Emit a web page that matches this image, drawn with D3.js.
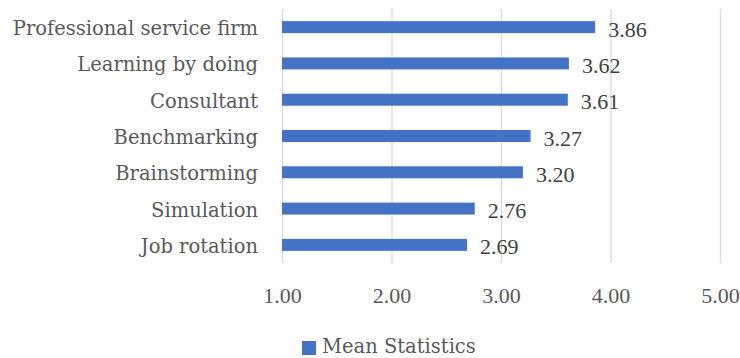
<!DOCTYPE html>
<html>
<head>
<meta charset="utf-8">
<script src="https://cdn.jsdelivr.net/npm/d3@7"></script>
<style>
  body { margin: 0; background: #fff; }
  svg text { font-family: "DejaVu Serif", "Liberation Serif", serif; }
  svg text.num { font-family: "Liberation Serif", "DejaVu Serif", serif; }
</style>
</head>
<body>
<div id="chart"></div>
<script>
// data
const categories = ["Professional service firm", "Learning by doing", "Consultant",
                    "Benchmarking", "Brainstorming", "Simulation", "Job rotation"];
const meanValues = [3.86, 3.62, 3.61, 3.27, 3.20, 2.76, 2.69];
const xTicks = [1, 2, 3, 4, 5];
const seriesName = "Mean Statistics";

const Width = 740, Height = 358;
const margin = { Top: 9, Right: 20, Bottom: 95, Left: 282 };

const svg = d3.select("#chart")
    .append("svg")
        .attr("width", Width)
        .attr("height", Height);

// scales
const xScale = d3.scaleLinear()
    .domain([1, 5])
    .range([margin.Left, 720]);
const yScale = d3.scaleBand()
    .domain(categories)
    .range([margin.Top, Height - margin.Bottom])
    .paddingInner(0.67)
    .paddingOuter(0.335);

// gridlines
svg.append("g")
    .selectAll("line")
    .data(xTicks)
    .join("line")
        .attr("x1", d => xScale(d) + 0.5)
        .attr("x2", d => xScale(d) + 0.5)
        .attr("y1", margin.Top)
        .attr("y2", Height - margin.Bottom)
        .attr("stroke", "#d9d9d9")
        .attr("stroke-width", 1.3);

// x axis tick labels
const xAxis = svg.append("g")
    .attr("transform", `translate(0, 303)`)
    .call(d3.axisBottom(xScale).tickValues(xTicks).tickFormat(d3.format(".2f")).tickSize(0).tickPadding(0));
xAxis.select(".domain").remove();
xAxis.selectAll("text")
    .attr("class", "num")
    .attr("fill", "#595959")
    .attr("font-size", "22px")
    .attr("dy", "0");

// y axis category labels
const yAxis = svg.append("g")
    .attr("transform", `translate(${margin.Left - 24}, 0)`)
    .call(d3.axisLeft(yScale).tickSize(0).tickPadding(0));
yAxis.select(".domain").remove();
yAxis.selectAll("text")
    .attr("fill", "#595959")
    .attr("font-size", "19.5px")
    .attr("dy", "8px");

// bars
svg.append("g")
    .selectAll("rect")
    .data(categories)
    .join("rect")
        .attr("x", xScale(1))
        .attr("y", (d) => yScale(d))
        .attr("width", (d, i) => xScale(meanValues[i]) - xScale(1))
        .attr("height", yScale.bandwidth())
        .attr("fill", "#4472c4");

// value labels
svg.append("g")
    .selectAll("text")
    .data(categories)
    .join("text")
        .attr("class", "num")
        .attr("x", (d, i) => xScale(meanValues[i]) + 13)
        .attr("y", d => yScale(d) + yScale.bandwidth() / 2)
        .attr("dy", "9.5px")
        .attr("fill", "#404040")
        .attr("font-size", "22px")
        .text((d, i) => meanValues[i].toFixed(2));

// legend
const legend = svg.append("g")
    .attr("transform", `translate(302, 341)`);
legend.append("rect")
    .attr("width", 14)
    .attr("height", 14)
    .attr("fill", "#4472c4");
legend.append("text")
    .attr("x", 20)
    .attr("y", 12)
    .attr("fill", "#595959")
    .attr("font-size", "19.5px")
    .text(seriesName);
</script>
</body>
</html>
